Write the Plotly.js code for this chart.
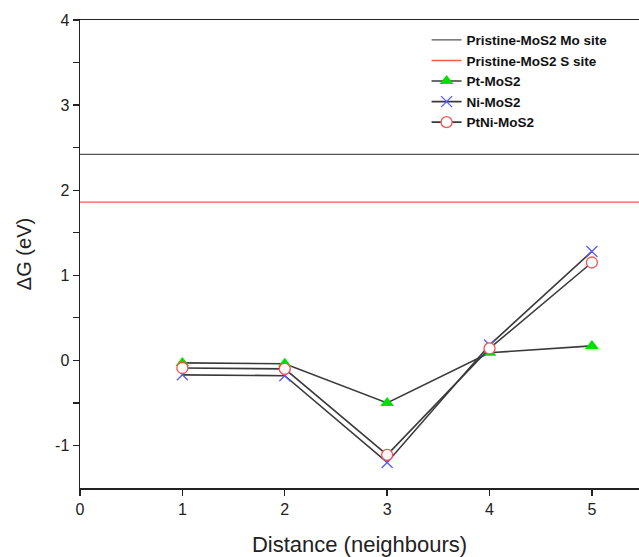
<!DOCTYPE html>
<html>
<head>
<meta charset="utf-8">
<script src="https://cdn.plot.ly/plotly-3.0.1.min.js"></script>
<style>html,body{margin:0;padding:0;background:#fff;}#chart{width:639px;height:557px;}</style>
</head>
<body>
<div id="chart"></div>
<script>
const distance = [1, 2, 3, 4, 5];
const ptMoS2 = [-0.03, -0.04, -0.50, 0.09, 0.17];
const niMoS2 = [-0.17, -0.18, -1.20, 0.18, 1.28];
const ptNiMoS2 = [-0.09, -0.10, -1.11, 0.14, 1.15];
const pristineMo = 2.42;
const pristineS = 1.86;
const xRange = [0, 5.46];
const yRange = [-1.5, 4];
const xTicks = [0, 1, 2, 3, 4, 5];
const yTicks = [-1, 0, 1, 2, 3, 4];
const yTickLabels = ['-1', '0', '1', '2', '3', '4'];
const yMinorTicks = [-0.5, 0.5, 1.5, 2.5, 3.5];

const lineStyle = {color: '#3a3a3a', width: 1.6};
const traces = [
  {x: xRange, y: [pristineMo, pristineMo], mode: 'lines', name: 'Pristine-MoS2 Mo site',
   line: {color: '#555555', width: 1.3}},
  {x: xRange, y: [pristineS, pristineS], mode: 'lines', name: 'Pristine-MoS2 S site',
   line: {color: '#ff5555', width: 1.3}},
  {x: distance, y: ptMoS2, mode: 'lines+markers', name: 'Pt-MoS2', line: lineStyle,
   marker: {symbol: 'triangle-up', size: 12, color: '#00e000', line: {width: 0}}},
  {x: distance, y: niMoS2, mode: 'lines+markers', name: 'Ni-MoS2', line: lineStyle,
   marker: {symbol: 'x-thin-open', size: 11, color: '#5a5aff', line: {color: '#5a5aff', width: 1.3}}},
  {x: distance, y: ptNiMoS2, mode: 'lines+markers', name: 'PtNi-MoS2', line: lineStyle,
   marker: {symbol: 'circle', size: 11, color: '#ffffff', line: {color: '#ff5050', width: 1.3}}}
];

const layout = {
  width: 639, height: 557,
  margin: {l: 80, r: 0, t: 20, b: 69},
  paper_bgcolor: '#fff', plot_bgcolor: '#fff',
  font: {family: 'Liberation Sans, Arial, sans-serif', color: '#222'},
  showlegend: true,
  legend: {x: 0.62, y: 0.99, xanchor: 'left', yanchor: 'top',
           font: {size: 13.5, weight: 'bold', color: '#111'}, bgcolor: 'rgba(0,0,0,0)',
           tracegroupgap: 0},
  xaxis: {range: xRange, tickvals: xTicks, ticks: 'outside', ticklen: 6, tickwidth: 1.3,
          tickcolor: '#222', showline: true, linecolor: '#222', linewidth: 1.5, mirror: true,
          showgrid: false, zeroline: false, tickfont: {size: 16},
          title: {text: 'Distance (neighbours)', font: {size: 22}, standoff: 22}},
  yaxis: {range: yRange, tickvals: yTicks, ticktext: yTickLabels, ticks: 'outside', ticklen: 6, tickwidth: 1.3,
          tickcolor: '#222', showline: true, linecolor: '#222', linewidth: 1.5, mirror: false,
          showgrid: false, zeroline: false, tickfont: {size: 16},
          minor: {tickvals: yMinorTicks, ticks: 'outside', ticklen: 6, tickwidth: 1.3, tickcolor: '#222', showgrid: false},
          title: {text: 'ΔG (eV)', font: {size: 20}, standoff: 18}}
};

Plotly.newPlot('chart', traces, layout, {displayModeBar: false, staticPlot: true});
</script>
</body>
</html>
